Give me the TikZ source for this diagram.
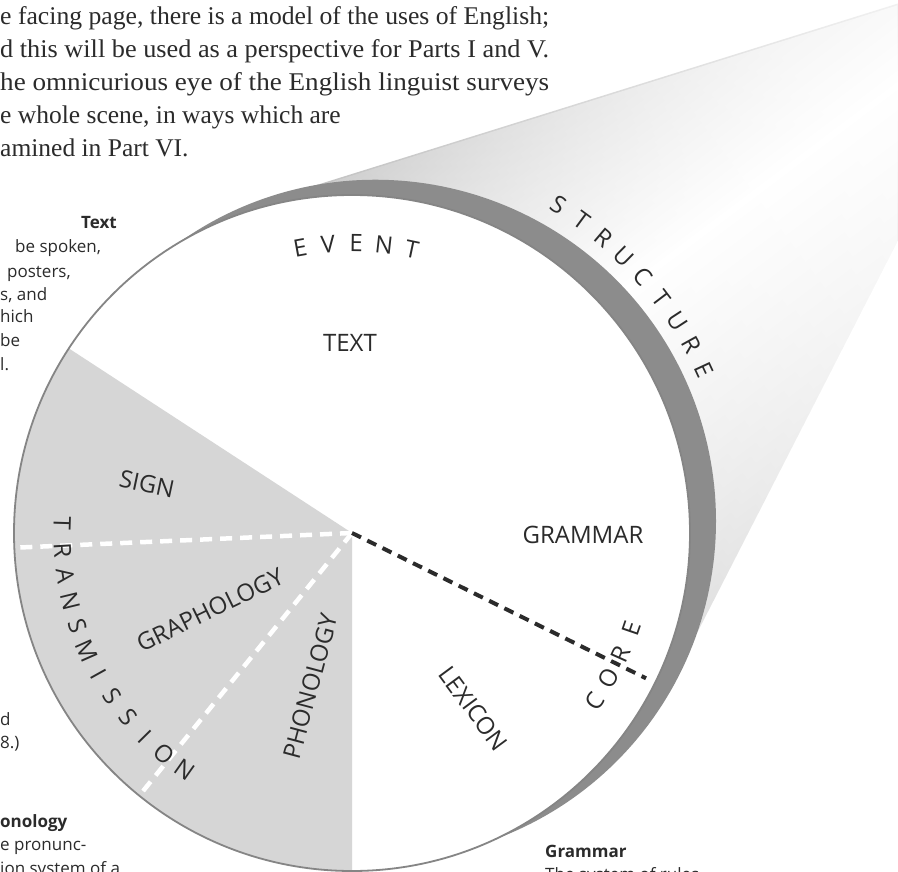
\documentclass[tikz,border=0pt]{standalone}
\usepackage{fontspec}
\usepackage{graphicx}
\setmainfont{Liberation Serif}
\newfontfamily\lab{Open Sans}
\usetikzlibrary{fadings}
\definecolor{ink}{HTML}{2B2B2B}
\definecolor{bandgray}{HTML}{8C8C8C}
\definecolor{secgray}{HTML}{D6D6D6}
\definecolor{rimgray}{HTML}{858585}
\tikzfading[name=alongcone, left color=transparent!100, right color=transparent!40]
\newcommand\fitline[1]{\resizebox{549pt}{\height}{#1}}
\begin{document}
\begin{tikzpicture}[x=1pt,y=1pt,
  lbl/.style={font=\lab\fontsize{24}{24}\selectfont, text=ink, inner sep=0pt},
  note/.style={font=\lab\fontsize{17}{17}\selectfont, text=ink, inner sep=0pt, anchor=base west},
  noteb/.style={note, font=\lab\bfseries\fontsize{17}{17}\selectfont},
  para/.style={font=\fontsize{25.5}{25.5}\selectfont, text=ink, inner sep=0pt, anchor=base west},
  wdash/.style={white, line width=4.5pt, dash pattern=on 12pt off 8pt},
  ddash/.style={ink, line width=4pt, dash pattern=on 10pt off 7pt},
]
\useasboundingbox (0,0) rectangle (898,-872);
\fill[white] (0,0) rectangle (898,-872);
\coordinate (C) at (352,-533);
% cone
\coordinate (ct) at (275,-198);
\coordinate (ctr) at (898,-3.5);
\coordinate (cbr) at (898,-240);
\coordinate (cb) at (697,-633);
\shade[top color=gray!55, bottom color=gray!30, middle color=white, shading angle=37]
  (C) -- (ct) -- (ctr) -- (cbr) -- (cb) -- cycle;
\fill[white, path fading=alongcone, fading angle=37]
  (C) -- (ct) -- (ctr) -- (cbr) -- (cb) -- cycle;
% rim band
\fill[bandgray] plot[domain=0:186, samples=140]
  ({352+(338+29*sin(\x*0.96774))*cos(121-\x)}, {-533+(338+29*sin(\x*0.96774))*sin(121-\x)}) -- cycle;
% disc
\fill[white] (C) circle[radius=338];
\fill[secgray] (C) -- ++(146.9:338) arc[start angle=146.9, end angle=270, radius=338] -- cycle;
\coordinate (w1) at ([shift={(182.5:336)}]C);
\coordinate (w2) at ([shift={(231:334)}]C);
\coordinate (d1) at ([shift={(-26.3:328)}]C);
\draw[wdash] (C) -- (w1);
\draw[wdash] (C) -- (w2);
\draw[ddash] (C) -- (d1);
\draw[rimgray, line width=1.8pt] (C) circle[radius=338];
% arc letters
\foreach \ch [count=\i from 0] in {T,R,A,N,S,M,I,S,S,I,O,N} {
  \pgfmathsetmacro\ang{178.2+\i*5.15}
  \pgfmathsetmacro\rot{\ang+90}
  \node[lbl, rotate=\rot] (tr\i) at ([shift={(\ang:290)}]C) {\ch};
}
\foreach \ch [count=\i from 0] in {C,O,R,E} {
  \pgfmathsetmacro\ang{-34.7+\i*5.27}
  \pgfmathsetmacro\rot{\ang+90}
  \node[lbl, rotate=\rot] (co\i) at ([shift={(\ang:295)}]C) {\ch};
}
\foreach \ch [count=\i from 0] in {E,V,E,N,T} {
  \pgfmathsetmacro\ang{100.3-\i*5.55}
  \pgfmathsetmacro\rot{\ang-90}
  \node[lbl, rotate=\rot] (ev\i) at ([shift={(\ang:290)}]C) {\ch};
}
\foreach \ch [count=\i from 0] in {S,T,R,U,C,T,U,R,E} {
  \pgfmathsetmacro\ang{57.8-\i*4.11}
  \pgfmathsetmacro\rot{\ang-90}
  \node[lbl, rotate=\rot] (st\i) at ([shift={(\ang:388)}]C) {\ch};
}
% inner labels
\node[lbl] (text) at (350,-343) {TEXT};
\node[lbl] (gram) at (583,-535) {GRAMMAR};
\node[lbl, rotate=-12] (sign) at (147,-484) {SIGN};
\node[lbl, rotate=26] (graph) at (210,-610) {GRAPHOLOGY};
\node[lbl, rotate=75] (phon) at (310.5,-686) {PHONOLOGY};
\node[lbl, rotate=-53.5] (lex) at (473.5,-708.5) {LEXICON};
% paragraph
\node[para] (p1) at (0,-25) {\fitline{e facing page, there is a model of the uses of English;}};
\node[para] (p2) at (0,-58) {\fitline{d this will be used as a perspective for Parts I and V.}};
\node[para] (p3) at (0,-91) {\fitline{he omnicurious eye of the English linguist surveys}};
\node[para] (p4) at (0,-124) {e whole scene, in ways which are};
\node[para] (p5) at (0,-157) {amined in Part VI.};
% side notes
\node[noteb, anchor=base east] (n0) at (117,-229) {Text};
\node[note] (n1) at (15,-253) {be spoken,};
\node[note] (n2) at (7,-277) {posters,};
\node[note] (n3) at (0,-300) {s, and};
\node[note] (n4) at (0,-323) {hich};
\node[note] (n5) at (0,-346) {be};
\node[note] (n6) at (0,-370) {l.};
\node[note] (n7) at (0,-725) {d};
\node[note] (n8) at (0,-748) {8.)};
\node[noteb] (n9) at (0,-827) {onology};
\node[note] (n10) at (0,-850) {e pronunc-};
\node[note] (n11) at (0,-874) {ion system of a};
\node[noteb] (g0) at (545,-857) {Grammar};
\node[note] (g1) at (545,-880) {The system of rules};
\end{tikzpicture}
\end{document}
